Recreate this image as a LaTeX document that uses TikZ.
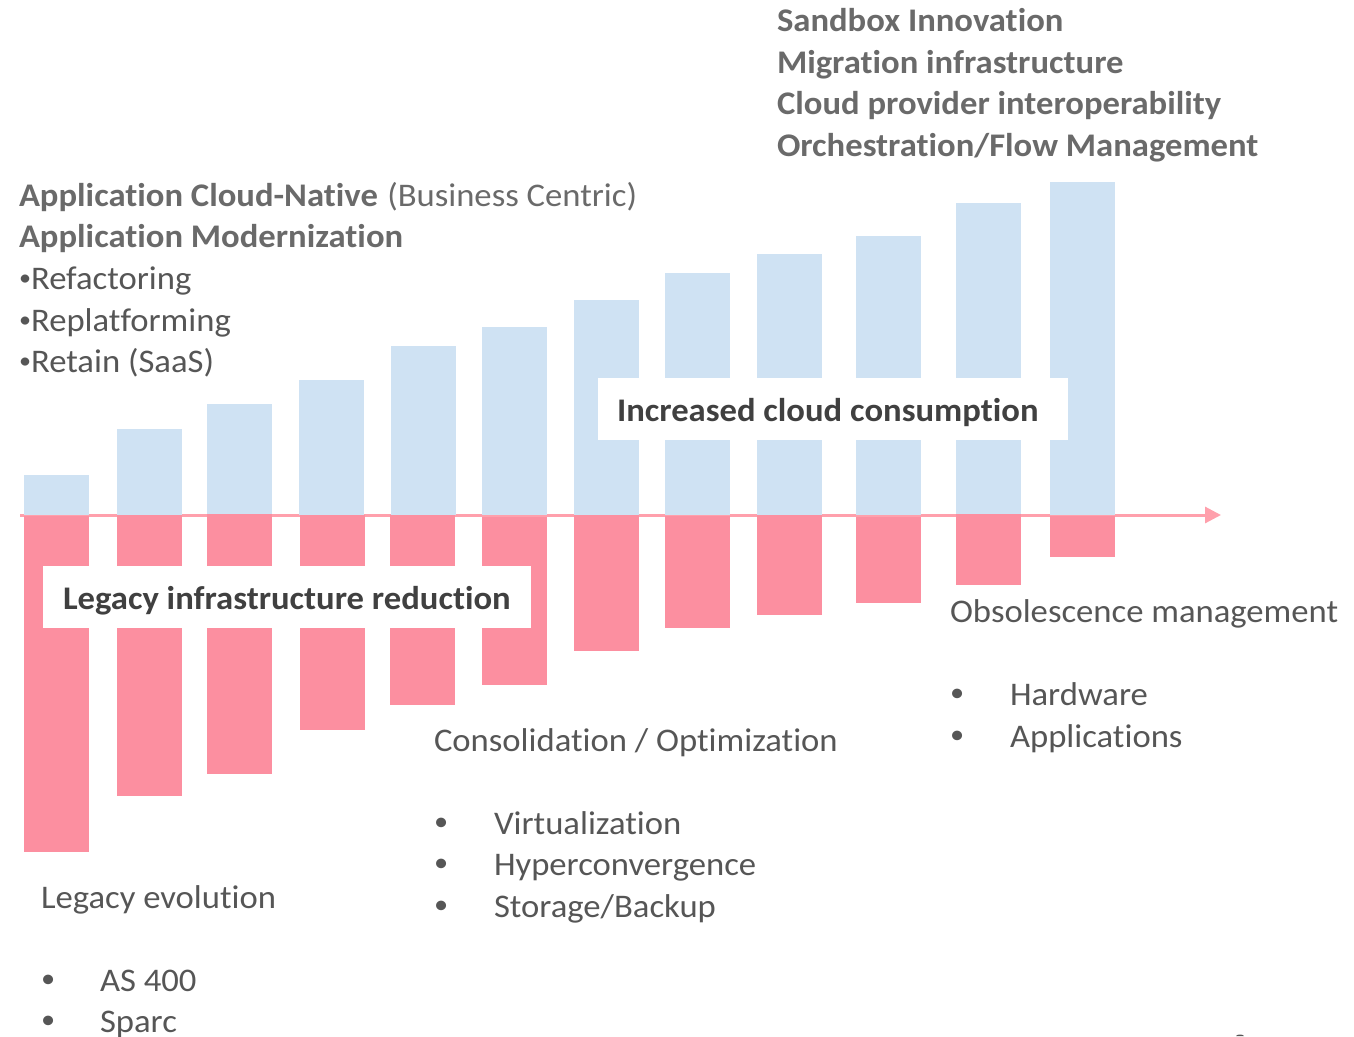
\documentclass[tikz,border=0pt]{standalone}
\usepackage{fontspec}
\setmainfont[FakeStretch=1.05,Ligatures=NoCommon]{Carlito}
\usetikzlibrary{arrows.meta}
\definecolor{barblue}{HTML}{CFE2F3}
\definecolor{barred}{HTML}{FC8FA0}
\definecolor{axisred}{HTML}{FFA0AC}
\definecolor{headgray}{HTML}{6A6A6A}
\definecolor{bodygray}{HTML}{565656}
\definecolor{darkgray}{HTML}{404040}
\newcommand{\smallbul}{\raisebox{3.2pt}{\fontsize{23}{23}\selectfont •}}
\newcommand{\listbul}{\raisebox{3.6pt}{\fontsize{27}{27}\selectfont •}}
\tikzset{
  txt/.style={anchor=base west,inner sep=0pt,outer sep=0pt,font=\fontsize{33}{40}\selectfont,text=bodygray},
  head/.style={txt,font=\fontsize{33}{40}\selectfont\bfseries,text=headgray},
  band/.style={txt,font=\fontsize{33}{40}\selectfont\bfseries,text=darkgray},
  bluebar/.style={fill=barblue,draw=none},
  redbar/.style={fill=barred,draw=none},
  mask/.style={fill=white,draw=none},
  axisline/.style={draw=axisred,line width=3pt,-{Triangle[length=16pt,width=16pt]}}
}
\begin{document}
\begin{tikzpicture}[x=1pt,y=-1pt]
\useasboundingbox (0,0) rectangle (1354,1036);
\coordinate (axisstart) at (20,515);
\coordinate (axisend) at (1221,515);
\draw[axisline] (axisstart) -- (axisend);
\foreach \l/\t in {24/475,117/429,207/404,299/380,391/346,482/327,574/300,665/273,757/254,856/236,956/203,1050/182}
  \fill[bluebar] (\l,\t) rectangle (\l+65,515);
\foreach \l/\t/\b in {24/516/852,117/515/796,207/514/774,300/515/730,390/515/705,482/517/685,574/515/651,665/516/628,757/515/615,856/517/603,956/514/585,1050/516/557}
  \fill[redbar] (\l,\t) rectangle (\l+65,\b);
\fill[mask] (598,378) rectangle (1068,440);
\fill[mask] (43,566) rectangle (531,628);
\node[head] (s1) at (777,31) {Sandbox Innovation};
\node[head] (s2) at (777,73) {Migration infrastructure};
\node[head] (s3) at (777,114) {Cloud provider interoperability};
\node[head] (s4) at (777,156) {Orchestration/Flow Management};
\node[head] (a1) at (19,206) {Application Cloud-Native\hspace{9.5pt}\mdseries(Business Centric)};
\node[head] (a2) at (19,247) {Application Modernization};
\node[txt] (a3) at (19,289) {\smallbul Refactoring};
\node[txt] (a4) at (19,331) {\smallbul Replatforming};
\node[txt] (a5) at (19,372) {\smallbul Retain (SaaS)};
\node[band] (inc) at (617,421) {Increased cloud consumption};
\node[band] (leg) at (63,609) {Legacy infrastructure reduction};
\node[txt] (o0) at (950,622) {Obsolescence management};
\node[txt] (ob1) at (950,705) {\listbul};
\node[txt] (o1) at (1010,705) {Hardware};
\node[txt] (ob2) at (950,747) {\listbul};
\node[txt] (o2) at (1010,747) {Applications};
\node[txt] (c0) at (434,751) {Consolidation / Optimization};
\node[txt] (cb1) at (434,834) {\listbul};
\node[txt] (c1) at (494,834) {Virtualization};
\node[txt] (cb2) at (434,875) {\listbul};
\node[txt] (c2) at (494,875) {Hyperconvergence};
\node[txt] (cb3) at (434,917) {\listbul};
\node[txt] (c3) at (494,917) {Storage/Backup};
\node[txt] (l0) at (41,908) {Legacy evolution};
\node[txt] (lb1) at (41,991) {\listbul};
\node[txt] (l1) at (100,991) {AS 400};
\node[txt] (lb2) at (41,1032) {\listbul};
\node[txt] (l2) at (100,1032) {Sparc};
\fill[bodygray] (1236,1036) .. controls (1237,1034) and (1243,1034) .. (1244,1036) -- cycle;
\end{tikzpicture}
\end{document}
